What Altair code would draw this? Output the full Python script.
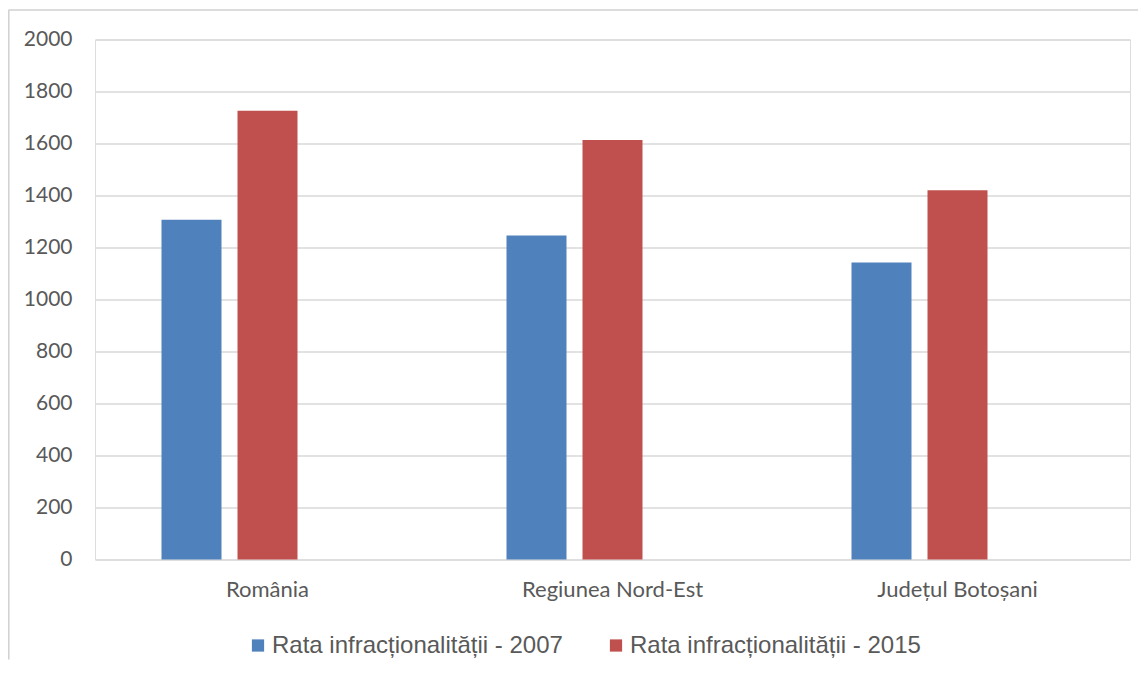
import altair as alt
import pandas as pd

categories = ["România", "Regiunea Nord-Est", "Județul Botoșani"]
series_names = ["Rata infracționalității - 2007", "Rata infracționalității - 2015"]
values_2007 = [1307, 1246, 1142]
values_2015 = [1726, 1613, 1420]
y_ticks = [0, 200, 400, 600, 800, 1000, 1200, 1400, 1600, 1800, 2000]
colors = ["#4F81BD", "#C0504D"]

rows = []
for c, v in zip(categories, values_2007):
    rows.append({"cat": c, "series": series_names[0], "value": v})
for c, v in zip(categories, values_2015):
    rows.append({"cat": c, "series": series_names[1], "value": v})
df = pd.DataFrame(rows)

AX_FONT = "Lato"
GRAY = "#595959"

bars = alt.Chart(df).mark_bar().encode(
    x=alt.X("cat:N", sort=categories, title=None,
            scale=alt.Scale(paddingInner=0, paddingOuter=0),
            axis=alt.Axis(labelAngle=0, domain=False, ticks=False, tickSize=0,
                          labelPadding=20, labelFont=AX_FONT, labelFontSize=22,
                          labelColor=GRAY, grid=False, labelLimit=400)),
    xOffset=alt.XOffset("series:N",
                        scale=alt.Scale(domain=series_names + ["_empty_"],
                                        paddingInner=0.2105, paddingOuter=0.875)),
    y=alt.Y("value:Q", title=None,
            scale=alt.Scale(domain=[0, 2000], nice=False),
            axis=alt.Axis(values=y_ticks, format="d", domain=False, ticks=False, tickSize=0,
                          labelPadding=23, labelFont=AX_FONT, labelFontSize=21,
                          labelColor=GRAY, gridColor="#d9d9d9", gridWidth=1.5)),
    color=alt.Color("series:N", title=None,
                    scale=alt.Scale(domain=series_names, range=colors),
                    legend=alt.Legend(orient="none", legendX=151, legendY=594,
                                      direction="horizontal", symbolType="square",
                                      symbolSize=150, symbolStrokeWidth=0,
                                      labelFont="Liberation Sans", labelFontSize=24,
                                      labelColor=GRAY, labelOffset=2,
                                      columnPadding=41, padding=0, labelLimit=400)),
)

one = pd.DataFrame({"a": [0]})
frame_top = alt.Chart(one).mark_rule(stroke="#d0d0d0", strokeWidth=1.5).encode(
    x=alt.value(-86.5), x2=alt.value(1043), y=alt.value(-29.5)
)
frame_left = alt.Chart(one).mark_rule(stroke="#d0d0d0", strokeWidth=1.5).encode(
    x=alt.value(-86.2), y=alt.value(-29.5), y2=alt.value(620)
)

chart = alt.layer(frame_top, frame_left, bars).properties(
    width=1035, height=520,
    padding={"left": 87, "top": 31.5, "right": 8, "bottom": 100},
    autosize=alt.AutoSizeParams(type="none"),
).configure_view(stroke=None).configure(background="white")

chart.save("out.html", embed_options={"renderer": "svg", "actions": False})
